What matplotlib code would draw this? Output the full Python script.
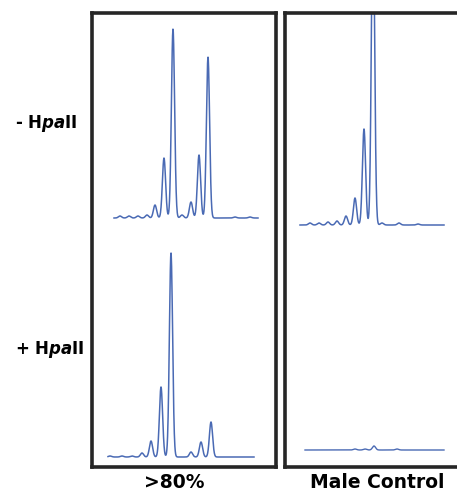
import numpy as np
import matplotlib.pyplot as plt

plt.rcParams['font.family'] = ['DejaVu Sans']
plt.rcParams['mathtext.fontset'] = 'custom'
plt.rcParams['mathtext.it'] = 'DejaVu Sans:italic:bold'
plt.rcParams['mathtext.rm'] = 'DejaVu Sans:bold'

# 电泳峰数据：位置（面板内像素尺度）、高度（相对荧光）
samples = [">80%", "Male Control"]
rows = ["- H$\\mathit{pa}$II", "+ H$\\mathit{pa}$II"]

# >80%, 未酶切
left_top_pos = [28, 37, 46, 55, 63, 72, 81, 90, 99, 107, 116, 143, 158]
left_top_h = [2, 2, 2, 3, 13, 60, 189, 3, 16, 63, 161, 1, 1]
# >80%, 酶切后
left_bot_pos = [18, 30, 40, 50, 59, 69, 79, 99, 109, 119]
left_bot_h = [1, 1, 1, 4, 16, 70, 204, 5, 15, 35]
# Male Control, 未酶切
right_top_pos = [25, 34, 43, 52, 61, 70, 79, 88, 97, 114, 133]
right_top_h = [2, 2, 3, 4, 9, 27, 96, 320, 2, 2, 1]
# Male Control, 酶切后
right_bot_pos = [70, 80, 89, 112]
right_bot_h = [1, 1, 4, 1]

COLOR = "#4a6ab4"


def trace(pos, h, x0, x1, base, sigma=1.6):
    x = np.linspace(x0, x1, 800)
    y = np.full_like(x, base, dtype=float)
    for p, a in zip(pos, h):
        y += a * np.exp(-(x - p) ** 2 / (2 * sigma ** 2))
    return x, y


W, H = 457, 492
fig = plt.figure(figsize=(W / 100, H / 100), dpi=100)

# 面板像素位置 (left, right, top, bottom)
panels = [(92, 276, 13, 467), (285, 462, 13, 467)]
axes = []
for l, r, t, b in panels:
    ax = fig.add_axes([l / W, 1 - b / H, (r - l) / W, (b - t) / H])
    ax.set_xlim(0, r - l)
    ax.set_ylim(0, b - t)
    ax.set_xticks([])
    ax.set_yticks([])
    for s in ax.spines.values():
        s.set_linewidth(2.6)
        s.set_color("#262626")
    axes.append(ax)

ax = axes[0]
ax.plot(*trace(left_top_pos, left_top_h, 22, 166, 249), color=COLOR, lw=1.1)
ax.plot(*trace(left_bot_pos, left_bot_h, 16, 162, 10), color=COLOR, lw=1.1)

ax = axes[1]
ax.plot(*trace(right_top_pos, right_top_h, 15, 159, 242), color=COLOR, lw=1.1)
ax.plot(*trace(right_bot_pos, right_bot_h, 20, 159, 17), color=COLOR, lw=1.0)

# 行标签
fig.text(15 / W, 1 - 124 / H, rows[0], fontsize=12, fontweight="bold", ha="left", va="center")
fig.text(15 / W, 1 - 349 / H, rows[1], fontsize=12, fontweight="bold", ha="left", va="center")

# 样本标签
fig.text(174 / W, 1 - 482 / H, samples[0], fontsize=13.5, fontweight="bold", ha="center", va="center")
fig.text(377 / W, 1 - 482 / H, samples[1], fontsize=13.5, fontweight="bold", ha="center", va="center")

plt.savefig("out.png", dpi=100)
